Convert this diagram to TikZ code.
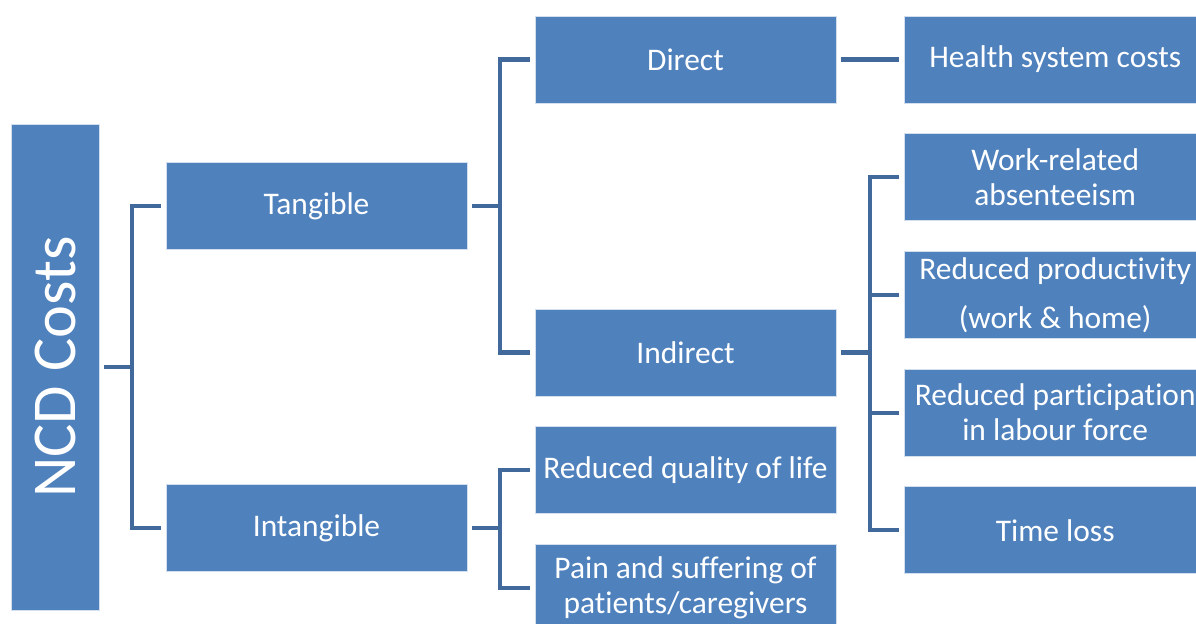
\documentclass[tikz,border=0pt]{standalone}
\usepackage{fontspec}
\setmainfont{Carlito}[Ligatures=NoCommon]
\definecolor{ncdblue}{RGB}{79,129,189}
\definecolor{ncddark}{RGB}{65,105,156}
\usetikzlibrary{positioning}

\begin{document}
\begin{tikzpicture}[
      box/.style={draw=white!75!ncdblue,fill=ncdblue,text=white,align=center,
        minimum width=6.02cm,minimum height=1.74cm,inner sep=0pt,
        font=\fontsize{17.9}{20}\selectfont},
      conn/.style={draw=ncddark,line width=2.3pt}
    ]
    \useasboundingbox (0,0) rectangle (23.92,-12.46);
    \clip (0,0) rectangle (23.92,-12.46);

    % Root
    \node (ncd) [box,minimum width=1.76cm,minimum height=9.72cm,
                 font=\fontsize{35.5}{40}\selectfont] at (1.10,-7.34) {\rotatebox{90}{NCD Costs}};

    % First level
    \node (tang)   [box] at (6.33,-4.12)  {Tangible};
    \node (intang) [box] at (6.33,-10.56) {Intangible};

    % Second level
    \node (direct)   [box] at (13.71,-1.19)        {Direct};
    \node (indirect) [box] at (13.71,-7.05)        {Indirect};
    \node (qol)      [box, below=0.6cm of indirect] {Reduced quality of life};
    \node (pain)     [box, below=0.6cm of qol]      {Pain and suffering of\\patients/caregivers};

    % Third level
    \node (health) [box, right=1.36cm of direct] {Health system costs};
    \node (work)   [box, below=0.6cm of health]  {Work-related\\absenteeism};
    \node (prod)   [box, below=0.6cm of work]    {Reduced productivity\\[8pt](work \& home)};
    \node (part)   [box, below=0.6cm of prod]    {Reduced participation\\in labour force};
    \node (tloss)  [box, below=0.6cm of part]    {Time loss};

    % Buses
    \coordinate (bus1) at (2.64,0);
    \coordinate (bus2) at (10.00,0);
    \coordinate (bus3) at (17.40,0);

    % Connectors
    \draw[conn] ([xshift=1mm]ncd.east) -- (bus1 |- ncd.east);
    \draw[conn] ([xshift=-1mm]tang.west) -| (bus1 |- intang.west) -- ([xshift=-1mm]intang.west);

    \draw[conn] ([xshift=1mm]tang.east) -- (bus2 |- tang.east);
    \draw[conn] ([xshift=-1mm]direct.west) -| (bus2 |- indirect.west) -- ([xshift=-1mm]indirect.west);

    \draw[conn] ([xshift=1mm]intang.east) -- (bus2 |- intang.east);
    \draw[conn] ([xshift=-1mm]qol.west) -| (bus2 |- pain.west) -- ([xshift=-1mm]pain.west);

    \draw[conn] ([xshift=1mm]direct.east) -- ([xshift=-1mm]health.west);

    \draw[conn] ([xshift=1mm]indirect.east) -- (bus3 |- indirect.east);
    \draw[conn] ([xshift=-1mm]work.west) -| (bus3 |- tloss.west) -- ([xshift=-1mm]tloss.west);
    \draw[conn] ([xshift=-1mm]prod.west) -- (bus3 |- prod.west);
    \draw[conn] ([xshift=-1mm]part.west) -- (bus3 |- part.west);
  \end{tikzpicture}
\end{document}
